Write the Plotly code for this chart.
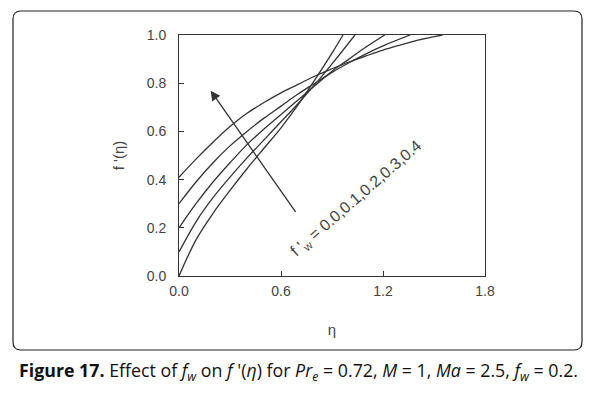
import plotly.graph_objects as go

# Curves for f'_w = 0.0, 0.1, 0.2, 0.3, 0.4
fw_labels = ["0.0", "0.1", "0.2", "0.3", "0.4"]
eta_c0 = [0.0, 0.1, 0.2, 0.3, 0.4, 0.5, 0.6, 0.7, 0.8, 0.9, 0.965]
fp_c0 = [0.0, 0.15, 0.26, 0.355, 0.445, 0.53, 0.615, 0.71, 0.815, 0.925, 1.0]
eta_c1 = [0.0, 0.1, 0.2, 0.3, 0.4, 0.5, 0.6, 0.7, 0.8, 0.9, 1.035]
fp_c1 = [0.10, 0.225, 0.325, 0.41, 0.49, 0.565, 0.64, 0.715, 0.795, 0.88, 1.0]
eta_c2 = [0.0, 0.1, 0.2, 0.3, 0.4, 0.5, 0.6, 0.7, 0.8, 0.9, 1.0, 1.1, 1.21]
fp_c2 = [0.20, 0.30, 0.39, 0.47, 0.545, 0.61, 0.67, 0.73, 0.79, 0.85, 0.90, 0.95, 1.0]
eta_c3 = [0.0, 0.1, 0.2, 0.3, 0.4, 0.5, 0.6, 0.7, 0.8, 0.9, 1.0, 1.1, 1.2, 1.36]
fp_c3 = [0.30, 0.39, 0.47, 0.54, 0.60, 0.655, 0.705, 0.755, 0.80, 0.845, 0.885, 0.922, 0.955, 1.0]
eta_c4 = [0.0, 0.1, 0.2, 0.3, 0.4, 0.5, 0.6, 0.7, 0.8, 0.9, 1.0, 1.1, 1.2, 1.3, 1.4, 1.55]
fp_c4 = [0.41, 0.485, 0.555, 0.62, 0.675, 0.72, 0.76, 0.795, 0.83, 0.86, 0.888, 0.913, 0.937, 0.958, 0.978, 1.0]

x_ticks = [0.0, 0.6, 1.2, 1.8]
y_ticks = [0.0, 0.2, 0.4, 0.6, 0.8, 1.0]

curves = [(eta_c0, fp_c0), (eta_c1, fp_c1), (eta_c2, fp_c2), (eta_c3, fp_c3), (eta_c4, fp_c4)]

LINE = "#333333"
TXT = "#444444"
AFONT = "Liberation Sans, Arial"

fig = go.Figure()
for (ex, fy), lab in zip(curves, fw_labels):
    fig.add_trace(go.Scatter(x=ex, y=fy, mode="lines", name=lab,
                             line=dict(color=LINE, width=1.3, shape="spline", smoothing=1.0),
                             showlegend=False))

# arrow
fig.add_annotation(x=0.186, y=0.769, ax=0.692, ay=0.26, xref="x", yref="y",
                   axref="x", ayref="y", showarrow=True, arrowhead=2,
                   arrowsize=1.5, arrowwidth=1.3, arrowcolor=LINE, text="")
# rotated label
fig.add_annotation(x=1.047, y=0.32, xref="x", yref="y", showarrow=False,
                   text="f '<sub>w</sub> = 0.0,0.1,0.2,0.3,0.4", textangle=-41,
                   font=dict(family=AFONT, size=16, color=TXT))

# caption
fig.add_annotation(x=0.392, y=-0.398, xref="paper", yref="paper", showarrow=False,
                   xanchor="center", yanchor="middle",
                   text="<b>Figure 17.</b> Effect of <i>f<sub>w</sub></i> on <i>f</i> '(<i>η</i>) for "
                        "<i>Pr<sub>e</sub></i> = 0.72, <i>M</i> = 1, <i>Ma</i> = 2.5, <i>f<sub>w</sub></i> = 0.2.",
                   font=dict(family="Open Sans", size=17.8, color="#111111"))

# outer rounded border
W, H = 306.0, 241.0
x0, x1 = (13 - 179) / W, (582 - 179) / W
yt, yb = (276 - 11) / H, (276 - 350) / H
rx, ry = 8 / W, 8 / H
path = (f"M {x0+rx},{yt} L {x1-rx},{yt} Q {x1},{yt} {x1},{yt-ry} "
        f"L {x1},{yb+ry} Q {x1},{yb} {x1-rx},{yb} L {x0+rx},{yb} "
        f"Q {x0},{yb} {x0},{yb+ry} L {x0},{yt-ry} Q {x0},{yt} {x0+rx},{yt} Z")
fig.add_shape(type="path", path=path, xref="paper", yref="paper",
              line=dict(color="#222222", width=1.2))

axis_common = dict(showline=True, linecolor=LINE, linewidth=1, mirror=True,
                   ticks="inside", ticklen=5, tickcolor=LINE, showgrid=False,
                   zeroline=False, tickfont=dict(family=AFONT, size=14, color=TXT))
fig.update_xaxes(range=[0, 1.8], tickvals=x_ticks, ticktext=[f"{v:.1f}" for v in x_ticks],
                 ticklabelstandoff=2,
                 title=dict(text="η", font=dict(family=AFONT, size=15, color=TXT), standoff=26),
                 **axis_common)
fig.update_yaxes(range=[0, 1.0], tickvals=y_ticks, ticktext=[f"{v:.1f}" for v in y_ticks],
                 ticklabelstandoff=9,
                 title=dict(text="f '(η)", font=dict(family=AFONT, size=15, color=TXT), standoff=18),
                 **axis_common)

fig.update_layout(width=592, height=393, margin=dict(l=179, r=107, t=35, b=117),
                  paper_bgcolor="white", plot_bgcolor="white")
fig.write_html("out.html", post_script="document.body.style.margin='0';",
               config={"displayModeBar": False})
